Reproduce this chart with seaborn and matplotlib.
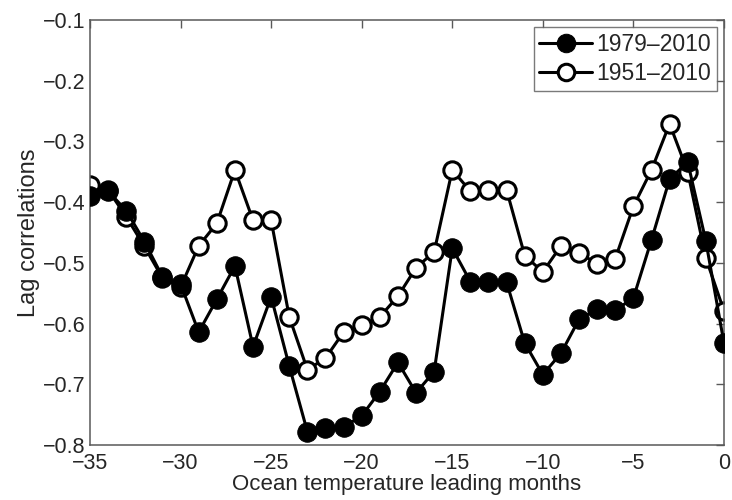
import matplotlib
matplotlib.use("Agg")
import matplotlib.pyplot as plt
import seaborn as sns
import numpy as np
import pandas as pd

months = list(range(-35, 1))
corr_1979 = [-0.39, -0.382, -0.414, -0.465, -0.523, -0.535, -0.614, -0.56, -0.505, -0.638,
             -0.556, -0.67, -0.778, -0.772, -0.77, -0.752, -0.712, -0.664, -0.714, -0.679,
             -0.476, -0.531, -0.532, -0.532, -0.632, -0.684, -0.649, -0.593, -0.576, -0.578,
             -0.558, -0.462, -0.362, -0.334, -0.464, -0.632]
corr_1951 = [-0.372, -0.38, -0.424, -0.473, -0.525, -0.54, -0.472, -0.435, -0.347, -0.43,
             -0.43, -0.589, -0.676, -0.657, -0.614, -0.603, -0.589, -0.555, -0.508, -0.482,
             -0.347, -0.382, -0.38, -0.38, -0.488, -0.515, -0.472, -0.483, -0.502, -0.493,
             -0.407, -0.347, -0.271, -0.35, -0.492, -0.579]
labels = ["1979\u20132010", "1951\u20132010"]
xticks = [-35, -30, -25, -20, -15, -10, -5, 0]
yticks = [-0.8, -0.7, -0.6, -0.5, -0.4, -0.3, -0.2, -0.1]

sns.set_style("white")
plt.rcParams['font.family'] = ['Liberation Sans', 'DejaVu Sans']

df = pd.DataFrame({"month": months + months,
                   "corr": corr_1979 + corr_1951,
                   "series": [labels[0]] * len(months) + [labels[1]] * len(months)})

fig = plt.figure(figsize=(7.32, 5.0), dpi=100)
ax = fig.add_axes([0.123, 0.11, 0.866, 0.85])

# open series drawn first (beneath), filled series on top
sns.lineplot(data=df[df.series == labels[1]], x="month", y="corr", ax=ax,
             color="black", lw=2.2, marker="o", markersize=12.5,
             markerfacecolor="white", markeredgecolor="black", markeredgewidth=2.2,
             label=labels[1], zorder=2)
sns.lineplot(data=df[df.series == labels[0]], x="month", y="corr", ax=ax,
             color="black", lw=2.2, marker="o", markersize=14,
             markerfacecolor="black", markeredgecolor="black", label=labels[0],
             zorder=3)

ax.set_xlim(-35, 0)
ax.set_ylim(-0.8, -0.1)
ax.set_xticks(xticks)
ax.set_yticks(yticks)
ax.set_xticklabels([f"\u2212{abs(t)}" if t < 0 else str(t) for t in xticks])
ax.set_yticklabels([f"\u2212{abs(t):.1f}" for t in yticks])
ax.tick_params(direction="in", length=6, width=1, color="0.35", labelsize=15.5,
               top=True, right=True)
ax.tick_params(axis="x", pad=6)
ax.tick_params(axis="y", pad=3)
for s in ax.spines.values():
    s.set_visible(True)
    s.set_color("0.35")
    s.set_linewidth(1.1)
ax.set_xlabel("Ocean temperature leading months", fontsize=16, labelpad=0)
ax.set_ylabel("Lag correlations", fontsize=17, labelpad=2)

handles, lbls = ax.get_legend_handles_labels()
order = [lbls.index(labels[0]), lbls.index(labels[1])]
leg = ax.legend([handles[i] for i in order], [lbls[i] for i in order],
                loc="upper right", fontsize=16.5, frameon=True, fancybox=False,
                borderaxespad=0.3, handlelength=2.3, handletextpad=0.2,
                borderpad=0.25, labelspacing=0.3, markerscale=0.95)
leg.get_frame().set_edgecolor("0.35")
leg.get_frame().set_linewidth(1.0)

fig.savefig("out.png", dpi=100)
